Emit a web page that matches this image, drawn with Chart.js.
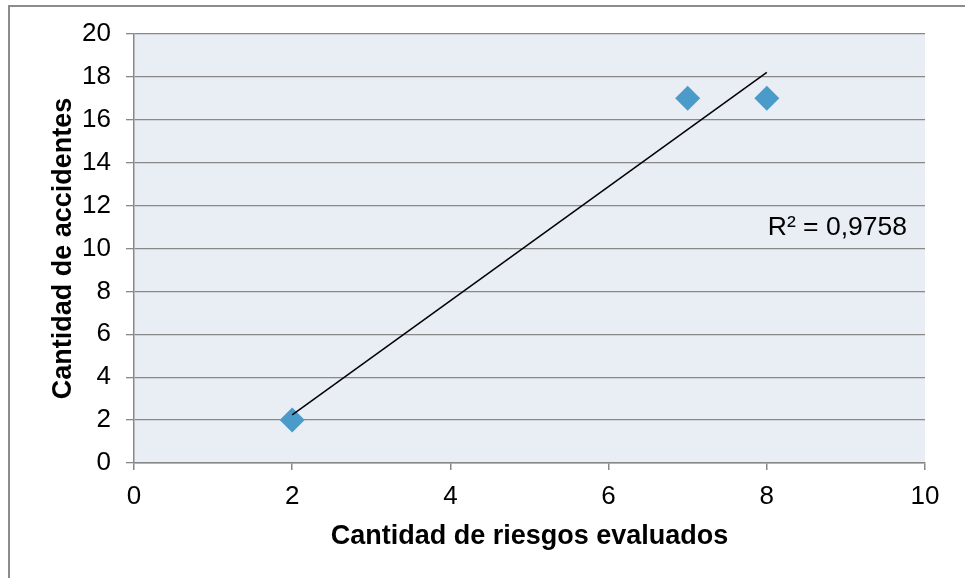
<!DOCTYPE html>
<html>
<head>
<meta charset="utf-8">
<script src="https://cdn.jsdelivr.net/npm/chart.js@4/dist/chart.umd.min.js"></script>
<style>
  html, body { margin: 0; padding: 0; background: #ffffff; }
  #wrap { width: 965px; height: 578px; }
</style>
</head>
<body>
<div id="wrap"><canvas id="c" width="965" height="578"></canvas></div>
<script>
// Riesgos evaluados vs. accidentes registrados
const riesgos = [2, 7, 8];
const accidentes = [2, 17, 17];
const xTicks = [0, 2, 4, 6, 8, 10];
const yTicks = [0, 2, 4, 6, 8, 10, 12, 14, 16, 18, 20];

// Least-squares fit for the trend line and its R²
function linearFit(xs, ys) {
  const n = xs.length;
  const mx = xs.reduce((a, b) => a + b, 0) / n;
  const my = ys.reduce((a, b) => a + b, 0) / n;
  let sxx = 0, sxy = 0, syy = 0;
  for (let i = 0; i < n; i++) {
    sxx += (xs[i] - mx) ** 2;
    sxy += (xs[i] - mx) * (ys[i] - my);
    syy += (ys[i] - my) ** 2;
  }
  const m = sxy / sxx;
  return { m, b: my - m * mx, r2: (sxy * sxy) / (sxx * syy) };
}
const fit = linearFit(riesgos, accidentes);
const xMin = Math.min(...riesgos), xMax = Math.max(...riesgos);
const trend = [
  { x: xMin, y: fit.m * xMin + fit.b },
  { x: xMax, y: fit.m * xMax + fit.b }
];
const r2Label = 'R² = ' + fit.r2.toFixed(4).replace('.', ',');

const FONT = "'Liberation Sans', Arial, sans-serif";
const GRID = '#888888';

const framePlugin = {
  id: 'frame',
  beforeDraw(chart) {
    const { ctx, chartArea: a } = chart;
    ctx.save();
    ctx.fillStyle = '#ffffff';
    ctx.fillRect(0, 0, chart.width, chart.height);
    ctx.fillStyle = '#e9edf4';
    ctx.fillRect(a.left, a.top, a.right - a.left, a.bottom - a.top);
    ctx.strokeStyle = '#8c8c8c';
    ctx.lineWidth = 2;
    ctx.strokeRect(9, 6, chart.width + 20, chart.height + 20);
    ctx.restore();
  },
  afterDatasetsDraw(chart) {
    const { ctx, chartArea: a } = chart;
    ctx.save();
    ctx.font = '26.5px ' + FONT;
    ctx.fillStyle = '#000000';
    ctx.textAlign = 'right';
    ctx.textBaseline = 'middle';
    ctx.fillText(r2Label, a.right - 18, 228);
    ctx.restore();
  }
};

new Chart(document.getElementById('c'), {
  type: 'scatter',
  data: {
    datasets: [
      {
        label: 'Accidentes',
        data: riesgos.map((x, i) => ({ x, y: accidentes[i] })),
        pointStyle: 'rectRot',
        pointRadius: 12.5,
        pointHoverRadius: 12.5,
        backgroundColor: '#4a9aca',
        borderColor: '#4a9aca',
        borderWidth: 0,
        order: 2
      },
      {
        label: 'Lineal',
        type: 'line',
        data: trend,
        borderColor: '#000000',
        borderWidth: 1.5,
        pointRadius: 0,
        fill: false,
        order: 1
      }
    ]
  },
  options: {
    responsive: false,
    animation: false,
    events: [],
    layout: { padding: { left: 0, top: 34, right: 40, bottom: 0 } },
    plugins: { legend: { display: false }, tooltip: { enabled: false } },
    scales: {
      x: {
        type: 'linear',
        min: 0, max: 10,
        afterFit(s) { s.height = 115; },
        afterBuildTicks(s) { s.ticks = xTicks.map(v => ({ value: v })); },
        grid: { drawOnChartArea: false, drawTicks: true, tickLength: 7, color: GRID, lineWidth: 1.5 },
        border: { display: true, color: GRID, width: 1.5 },
        ticks: { color: '#000', font: { family: FONT, size: 26 }, padding: 11, maxRotation: 0 },
        title: {
          display: true,
          text: 'Cantidad de riesgos evaluados',
          color: '#000',
          font: { family: FONT, size: 27, weight: 'bold' },
          padding: { top: 0, bottom: 25 }
        }
      },
      y: {
        type: 'linear',
        min: 0, max: 20,
        afterFit(s) { s.width = 134; },
        afterBuildTicks(s) { s.ticks = yTicks.map(v => ({ value: v })); },
        grid: { drawTicks: true, tickLength: 8, color: GRID, lineWidth: 1.3 },
        border: { display: true, color: GRID, width: 1.5 },
        ticks: { color: '#000', font: { family: FONT, size: 26 }, padding: 15 },
        title: {
          display: true,
          text: 'Cantidad de accidentes',
          color: '#000',
          font: { family: FONT, size: 27, weight: 'bold' },
          padding: { top: 47, bottom: 0 }
        }
      }
    }
  },
  plugins: [framePlugin]
});
</script>
</body>
</html>
